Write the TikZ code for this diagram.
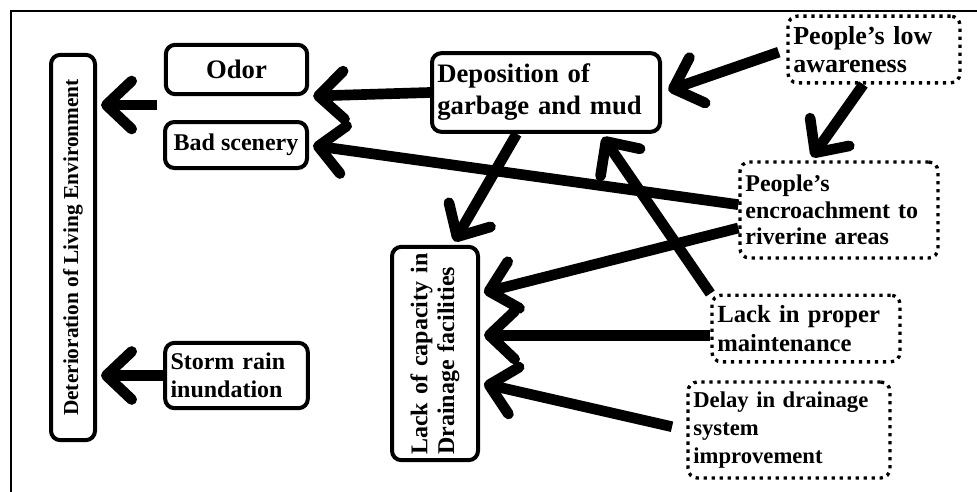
\documentclass[tikz,border=0pt]{standalone}
\usepackage{fontspec}
\setmainfont{Liberation Serif}
\usetikzlibrary{arrows.meta}
\newcommand\boxfont[2]{\fontsize{#1}{#2}\selectfont\bfseries}
\tikzset{
  solidbox/.style={draw, line width=3pt, rounded corners=7pt, inner xsep=4pt, inner ysep=2pt},
  dotbox/.style={draw, line width=2.5pt, dash pattern=on 2.5pt off 3.5pt, rounded corners=7pt, inner xsep=4pt, inner ysep=2pt},
  effect/.style={line width=8pt, -{Straight Barb[length=19pt,width=36pt,round]}, shorten >=3pt},
}
\begin{document}
\begin{tikzpicture}[x=0.75pt, y=-0.75pt]
    \useasboundingbox (0,0) rectangle (977,492);
    \draw[line width=2pt] (977,11) -- (11,11) -- (11,492);

    % effects
    \node[solidbox, rotate=90, minimum width=289pt, minimum height=33pt, font=\boxfont{16}{19}] (det) at (73,247.5) {Deterioration of Living Environment};
    \node[solidbox, minimum width=106pt, minimum height=37pt, font=\boxfont{20}{24}] (odor) at (236.5,69.5) {Odor};
    \node[solidbox, minimum width=106.5pt, minimum height=34.5pt, font=\boxfont{18}{21}] (bad) at (236,145) {Bad scenery};
    \node[solidbox, text width=99pt, minimum height=49pt, align=left, font=\boxfont{18}{21}] (storm) at (236.5,375.5) {Storm rain\\inundation};
    \node[solidbox, text width=163pt, minimum height=59pt, align=left, font=\boxfont{20}{24}] (depo) at (546,92.5) {Deposition of\\garbage and mud};
    \node[solidbox, rotate=90, text width=152pt, minimum height=64.5pt, align=left, font=\boxfont{18}{20}] (cap) at (435,353.5) {Lack of capacity in\\Drainage facilities};

    % causes
    \node[dotbox, text width=121pt, minimum height=50pt, align=left, font=\boxfont{19.5}{21}] (low) at (874,49.5) {People’s low\\awareness};
    \node[dotbox, text width=140.5pt, minimum height=72pt, align=left, font=\boxfont{18}{20}] (enc) at (839,210) {People’s\\encroachment to\\riverine areas};
    \node[dotbox, text width=133pt, minimum height=50pt, align=left, font=\boxfont{18.5}{21.5}] (maint) at (806,328.5) {Lack in proper\\maintenance};
    \node[dotbox, text width=143.5pt, minimum height=72pt, align=left, font=\boxfont{17}{21}] (delay) at (789,430) {Delay in drainage\\system\\improvement};

    \coordinate (odorbad) at (157,105);
    \coordinate (mshaft) at ([yshift=-5pt]maint.west);

    \draw[effect] (odorbad) -- (odorbad -| det.south);
    \draw[effect] (storm.west) -- (storm.west -| det.south);
    \draw[effect] (depo.west) -- (odor.south east);
    \draw[effect] ([yshift=4pt]enc.west) -- (bad.east);
    \draw[effect, shorten <=6pt, shorten >=5pt] (low.west) -- (depo.east);
    \draw[effect] ([xshift=-8pt]low.south) -- ([xshift=-22pt]enc.north);
    \draw[effect] ([xshift=-22pt]depo.south) -- ([xshift=13pt]cap.east);
    \draw[effect] (maint.north west) -- ([xshift=41pt]depo.south);
    \draw[effect] ([yshift=-13.5pt]enc.west) -- ([yshift=45pt]cap.south);
    \draw[effect] (mshaft) -- (mshaft -| cap.south);
    \draw[effect, shorten <=11pt] (delay.west) -- ([yshift=-22pt]cap.south);
\end{tikzpicture}
\end{document}
